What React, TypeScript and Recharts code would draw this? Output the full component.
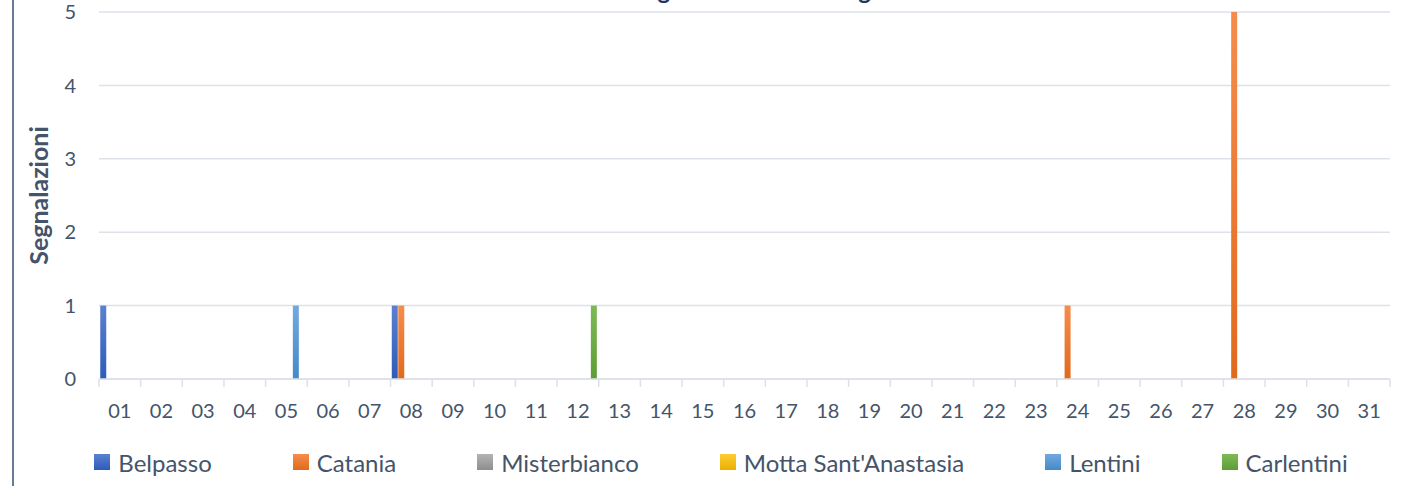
import React from 'react'
import { BarChart, Bar, XAxis, YAxis, CartesianGrid } from 'recharts'

const days = [
  '01', '02', '03', '04', '05', '06', '07', '08', '09', '10',
  '11', '12', '13', '14', '15', '16', '17', '18', '19', '20',
  '21', '22', '23', '24', '25', '26', '27', '28', '29', '30', '31',
]

const belpasso = [1, 0, 0, 0, 0, 0, 0, 1, 0, 0, 0, 0, 0, 0, 0, 0, 0, 0, 0, 0, 0, 0, 0, 0, 0, 0, 0, 0, 0, 0, 0]
const catania = [0, 0, 0, 0, 0, 0, 0, 1, 0, 0, 0, 0, 0, 0, 0, 0, 0, 0, 0, 0, 0, 0, 0, 1, 0, 0, 0, 5, 0, 0, 0]
const misterbianco = [0, 0, 0, 0, 0, 0, 0, 0, 0, 0, 0, 0, 0, 0, 0, 0, 0, 0, 0, 0, 0, 0, 0, 0, 0, 0, 0, 0, 0, 0, 0]
const motta = [0, 0, 0, 0, 0, 0, 0, 0, 0, 0, 0, 0, 0, 0, 0, 0, 0, 0, 0, 0, 0, 0, 0, 0, 0, 0, 0, 0, 0, 0, 0]
const lentini = [0, 0, 0, 0, 1, 0, 0, 0, 0, 0, 0, 0, 0, 0, 0, 0, 0, 0, 0, 0, 0, 0, 0, 0, 0, 0, 0, 0, 0, 0, 0]
const carlentini = [0, 0, 0, 0, 0, 0, 0, 0, 0, 0, 0, 1, 0, 0, 0, 0, 0, 0, 0, 0, 0, 0, 0, 0, 0, 0, 0, 0, 0, 0, 0]

const yTicks = [0, 1, 2, 3, 4, 5]

const series = [
  { key: 'belpasso', name: 'Belpasso', values: belpasso, top: '#5b80d0', bottom: '#2d5cb9' },
  { key: 'catania', name: 'Catania', values: catania, top: '#f68c4c', bottom: '#e06a1c' },
  { key: 'misterbianco', name: 'Misterbianco', values: misterbianco, top: '#b3b3b3', bottom: '#8e8e8e' },
  { key: 'motta', name: "Motta Sant'Anastasia", values: motta, top: '#ffcc33', bottom: '#eab000' },
  { key: 'lentini', name: 'Lentini', values: lentini, top: '#72a9de', bottom: '#4689c8' },
  { key: 'carlentini', name: 'Carlentini', values: carlentini, top: '#7dba57', bottom: '#5e9d35' },
]

const data = days.map((day, i) => {
  const row: Record<string, string | number> = { day }
  series.forEach((s) => {
    row[s.key] = s.values[i]
  })
  return row
})

const W = 1403
const H = 486
const PLOT_LEFT = 99
const PLOT_RIGHT = 1390
const PLOT_TOP = 12
const PLOT_BOTTOM = 379
const X_AXIS_H = 40
const Y_AXIS_W = 60
const BAND = (PLOT_RIGHT - PLOT_LEFT) / days.length

const TEXT = '#44546a'
const GRID = '#dde1e8'
const FONT = 'Lato, "Open Sans", sans-serif'

const DayTick = (props: any) => {
  const { x, y, payload, index } = props
  return (
    <g>
      <line x1={x - BAND / 2} x2={x - BAND / 2} y1={y} y2={y + 8} stroke={GRID} strokeWidth={1.5} />
      {index === days.length - 1 && (
        <line x1={x + BAND / 2} x2={x + BAND / 2} y1={y} y2={y + 8} stroke={GRID} strokeWidth={1.5} />
      )}
      <text x={x} y={y + 39} textAnchor="middle" fontSize={20} fill={TEXT} fontFamily={FONT}>
        {payload.value}
      </text>
    </g>
  )
}

export default function App() {
  return (
    <div style={{ position: 'absolute', left: 0, top: 0, width: W, height: H, overflow: 'hidden', background: '#fff' }}>
      <div style={{ position: 'absolute', left: 12, top: 0, width: 1.5, height: H, background: '#6a7a96' }} />

      <BarChart
        width={W}
        height={H}
        data={data}
        barCategoryGap="3%"
        barGap={0.5}
        margin={{
          top: PLOT_TOP,
          right: W - PLOT_RIGHT,
          left: PLOT_LEFT - Y_AXIS_W,
          bottom: H - PLOT_BOTTOM - X_AXIS_H,
        }}
      >
        <defs>
          {series.map((s) => (
            <linearGradient key={s.key} id={`grad-${s.key}`} x1="0" y1="0" x2="0" y2="1">
              <stop offset="0%" stopColor={s.top} />
              <stop offset="100%" stopColor={s.bottom} />
            </linearGradient>
          ))}
        </defs>
        <CartesianGrid vertical={false} stroke={GRID} strokeWidth={1.5} />
        <XAxis
          dataKey="day"
          interval={0}
          height={X_AXIS_H}
          tickSize={0}
          tickMargin={0}
          tickLine={false}
          axisLine={{ stroke: GRID, strokeWidth: 1.5 }}
          tick={<DayTick />}
        />
        <YAxis
          width={Y_AXIS_W}
          domain={[0, 5]}
          ticks={yTicks}
          axisLine={false}
          tickLine={false}
          tickSize={0}
          tickMargin={23}
          tick={{ fontSize: 20, fill: TEXT, fontFamily: FONT }}
        />
        {series.map((s) => (
          <Bar key={s.key} dataKey={s.key} name={s.name} fill={`url(#grad-${s.key})`} isAnimationActive={false} />
        ))}
      </BarChart>

      {/* title sits mostly above the frame, as in the reference crop */}
      <svg width={W} height={H} style={{ position: 'absolute', left: 0, top: 0, pointerEvents: 'none' }}>
        <text x={746} y={-1} textAnchor="middle" fontSize={24} fontWeight={700} fill="#203864" fontFamily={FONT}>
          Andamento giornaliero delle segnalazioni
        </text>
        <text
          transform={`translate(48, ${(PLOT_TOP + PLOT_BOTTOM) / 2}) rotate(-90)`}
          textAnchor="middle"
          fontSize={25}
          fontWeight={700}
          fill={TEXT}
          fontFamily={FONT}
        >
          Segnalazioni
        </text>
      </svg>

      <div
        style={{
          position: 'absolute',
          left: 0,
          top: 446,
          width: 1442,
          height: 32,
          display: 'flex',
          justifyContent: 'center',
          alignItems: 'center',
          gap: 81,
          fontFamily: FONT,
          fontSize: 24,
          color: TEXT,
          whiteSpace: 'nowrap',
        }}
      >
        {series.map((s) => (
          <div key={s.key} style={{ display: 'flex', alignItems: 'center' }}>
            <span
              style={{
                width: 16,
                height: 16,
                marginRight: 8,
                background: `linear-gradient(${s.top}, ${s.bottom})`,
              }}
            />
            <span>{s.name}</span>
          </div>
        ))}
      </div>
    </div>
  )
}
